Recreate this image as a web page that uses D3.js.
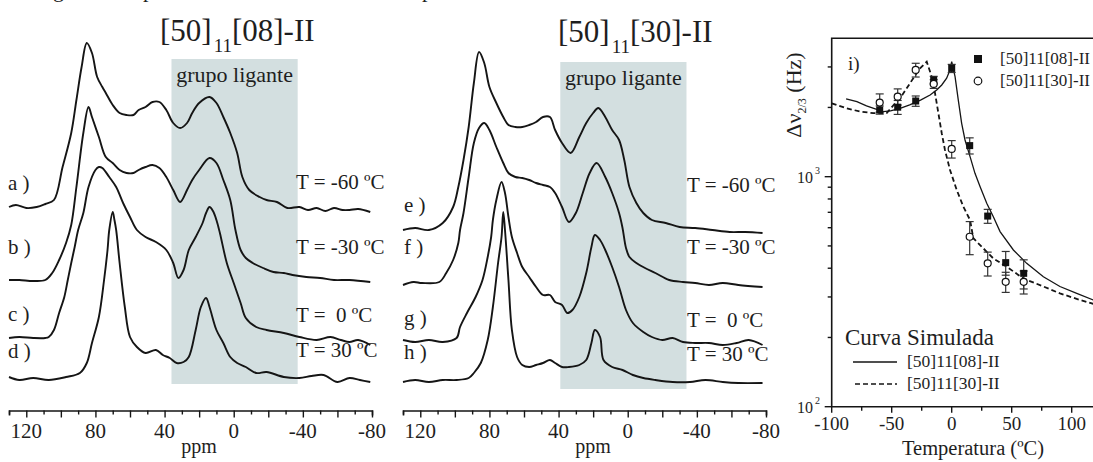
<!DOCTYPE html>
<html><head><meta charset="utf-8">
<script src="https://cdn.jsdelivr.net/npm/d3@7"></script>
<style>
html,body{margin:0;padding:0;background:#fff;overflow:hidden;}
svg{display:block;}
text{font-family:"Liberation Serif","Times New Roman",serif;fill:#1e1e1e;}
</style></head><body>
<svg id="c" width="1093" height="462"></svg>
<script>
// ---------------- DATA ----------------
// NMR spectra: [ppm, intensity (a.u.)]
const specA = [[130,3],[126,5],[120,2],[114,3],[109,6],[104,10],[99,43],[94,77],[91,110],[88,143],[85,167],[82,157],[79,133],[76,123],[74,117],[70,105],[66,97],[62,95],[58,95],[55,100],[51,103],[47,108],[43,108],[39,100],[35,87],[31,82],[27,87],[24,97],[20,107],[14,113],[10,107],[6,93],[2,77],[-2,57],[-5,33],[-9,20],[-15,13],[-19,10],[-25,8],[-31,2],[-38,3],[-43,0],[-48,2],[-53,-1],[-58,2],[-63,0],[-67,0],[-72,1],[-79,-2]];
const specB = [[130,0],[124,0],[116,-1],[109,0],[105,7],[101,20],[97,37],[94,55],[91,93],[87,147],[84,173],[82,163],[78,143],[74,123],[70,117],[66,110],[62,107],[58,107],[55,110],[51,113],[47,115],[43,112],[39,103],[35,90],[31,78],[27,90],[24,100],[20,110],[14,122],[10,117],[6,100],[2,80],[-1,50],[-4,30],[-7,22],[-11,17],[-17,12],[-23,8],[-29,7],[-34,5],[-42,3],[-50,2],[-58,0],[-67,0],[-79,-2]];
const specC = [[130,0],[124,1],[116,0],[109,0],[107,1],[104,8],[101,25],[98,41],[96,58],[94,75],[92,91],[90,108],[87,125],[84,151],[80,168],[78,171],[76,170],[72,161],[68,151],[64,135],[60,121],[56,108],[51,101],[45,96],[39,88],[35,75],[32,60],[29,68],[26,88],[22,101],[18,115],[16,125],[14,131],[12,127],[10,118],[8,105],[4,75],[0,55],[-4,35],[-7,20],[-13,11],[-19,8],[-29,5],[-38,1],[-48,-2],[-56,1],[-62,-2],[-67,-4],[-72,-2],[-79,-7]];
const specD = [[130,1],[124,-2],[116,0],[107,-2],[97,1],[89,5],[85,15],[82,35],[78,61],[75,98],[73,128],[72,148],[70,166],[69,158],[68,148],[66,115],[63,71],[60,41],[56,31],[51,25],[45,28],[41,23],[37,20],[33,15],[29,16],[26,21],[22,48],[19,71],[16,80],[14,71],[10,48],[6,35],[2,21],[-2,15],[-7,11],[-13,5],[-19,6],[-29,1],[-38,0],[-45,2],[-52,3],[-60,-4],[-67,0],[-73,-2],[-79,-4]];
const specE = [[130,0],[123,2],[115,0],[107,7],[101,23],[98,43],[95,70],[92,103],[89,147],[86,178],[83,167],[80,143],[76,127],[72,113],[69,105],[65,103],[61,103],[57,105],[53,108],[49,113],[45,113],[42,100],[38,87],[33,77],[28,93],[24,107],[20,117],[17,122],[13,113],[9,100],[5,90],[2,70],[-1,43],[-5,27],[-9,17],[-14,10],[-22,7],[-30,3],[-39,2],[-49,0],[-59,-2],[-68,-2],[-78,-3]];
const specF = [[130,0],[124,3],[119,2],[109,3],[105,12],[101,25],[98,42],[97,55],[95,72],[92,108],[89,142],[86,157],[83,162],[80,155],[76,138],[72,122],[69,112],[65,108],[61,107],[57,105],[53,102],[49,100],[45,98],[42,92],[38,78],[34,63],[30,72],[26,92],[22,112],[18,122],[13,108],[9,92],[5,72],[3,57],[1,37],[-1,28],[-5,22],[-10,17],[-16,12],[-24,5],[-32,3],[-39,2],[-47,0],[-55,2],[-64,0],[-78,-2]];
const specG = [[130,0],[123,-2],[115,0],[107,-2],[99,2],[97,13],[93,27],[88,43],[84,60],[81,83],[79,103],[78,120],[76,140],[73,158],[71,147],[69,123],[67,103],[64,87],[61,73],[57,63],[53,53],[49,45],[45,45],[42,38],[38,35],[35,27],[32,30],[28,43],[24,67],[21,93],[19,105],[16,100],[13,90],[9,73],[5,53],[1,30],[-3,17],[-9,8],[-14,3],[-20,0],[-26,2],[-32,-2],[-39,-3],[-47,-3],[-55,-5],[-63,-3],[-70,0],[-78,-5]];
const specH = [[130,0],[123,2],[115,0],[107,2],[99,2],[92,4],[89,9],[85,19],[81,42],[78,75],[75,119],[73,145],[72,170],[71,152],[69,102],[67,52],[64,25],[61,17],[57,15],[53,17],[49,19],[45,22],[42,19],[38,15],[34,15],[28,17],[24,22],[21,39],[19,52],[16,45],[14,22],[9,15],[3,12],[-3,7],[-9,4],[-16,2],[-26,0],[-36,0],[-45,2],[-55,0],[-64,-1],[-78,-1]];

const leftOffsets = [201, 131, 73, 33];
const midOffsets  = [181, 126, 71, 29];
const leftLetters = ["a )", "b )", "c )", "d )"];
const midLetters  = ["e )", "f )", "g )", "h )"];
const tempLabels  = ["T = -60 ºC", "T = -30 ºC", "T =  0 ºC", "T = 30 ºC"];
const ppmTickLabels = [120, 80, 40, 0, -40, -80];
const leftBand = [36, -37];
const midBand  = [39, -34];

// Right panel: line width Δν2/3 (Hz) vs temperature (ºC)
const tempC  = [-60, -45, -30, -15, 0, 15, 30, 45, 60];
const dv08   = [1950, 2005, 2133, 2630, 2957, 1365, 674, 423, 380];
const err08  = [80, 140, 110, 100, 120, 110, 47, 50, 55];
const dv30   = [2100, 2228, 2912, 2530, 1320, 548, 420, 349, 349];
const err30  = [190, 180, 200, 110, 115, 90, 50, 35, 40];
const simT08 = [-88, -79, -71, -62.5, -57, -51, -43, -35, -26, -18, -12.5, -8.3, -4.2, -1.4, 0, 2.8, 5.5, 8.3, 11.1, 15.3, 19.4, 23.6, 29.2, 34.7, 40.3, 51.4, 62.5, 76.4, 90.2, 104.2, 118];
const sim08  = [2178, 2120, 2030, 1963, 1918, 1931, 1983, 2051, 2153, 2265, 2384, 2505, 2680, 2912, 3162, 2723, 2153, 1706, 1444, 1222, 1034, 906, 766, 670, 577, 480, 420, 367, 333, 311, 291];
const simT30 = [-100, -87.5, -76.4, -65.3, -54.2, -47.2, -43, -37.5, -32, -26.4, -20.8, -16.7, -13.9, -11.1, -8.3, -5.6, -1.4, 4.2, 9.7, 15.3, 18, 34.7, 45.8, 59.7, 76.4, 90.2, 107, 118];
const sim30  = [2085, 1983, 1919, 1888, 1888, 2085, 2193, 2422, 2680, 2957, 3162, 2723, 2307, 1888, 1545, 1306, 1069, 875, 741, 648, 540, 441, 406, 361, 333, 311, 291, 280];
const tempTicks = [-100, -50, 0, 50, 100];
const seriesNames = ["[50]11[08]-II", "[50]11[30]-II"];

// ---------------- DRAW ----------------
const svg = d3.select("#c");
const INK = "#151515";
const spectraY = d3.scaleLinear().domain([0, 400]).range([411, 11]);

// cropped caption line above the figure (only descenders visible, as in the source crop)
[["g", 53], ["p", 143], ["p", 422]].forEach(([c, px]) => {
  svg.append("text").attr("x", px).attr("y", -3).attr("font-size", 22).text(c);
});

function spectraPanel(p) {
  const x = d3.scaleLinear().domain([130, -80]).range(p.range);
  const y = spectraY;
  const g = svg.append("g");
  g.append("rect")
    .attr("x", x(p.band[0])).attr("width", x(p.band[1]) - x(p.band[0]))
    .attr("y", y(p.bandTop)).attr("height", y(p.bandBottom) - y(p.bandTop))
    .attr("fill", "#d3dfe0");
  g.append("text").attr("x", (x(p.band[0]) + x(p.band[1])) / 2).attr("y", p.bandTextY)
    .attr("text-anchor", "middle").attr("font-size", 22).text("grupo ligante");

  const line = d3.line().curve(d3.curveCatmullRom.alpha(0.5));
  p.spectra.forEach((s, i) => {
    g.append("path")
      .attr("d", line.x(d => x(d[0])).y(d => y(d[1] + p.offsets[i]))(s))
      .attr("fill", "none").attr("stroke", INK).attr("stroke-width", 1.9)
      .attr("stroke-linejoin", "round");
  });
  // axis
  const ay = 410.5;
  const axis = d3.axisBottom(x).tickValues(d3.range(130, -81, -10)).tickFormat("").tickSizeOuter(0).tickSize(5);
  const ag = g.append("g").attr("transform", `translate(0,${ay})`).call(axis);
  ag.select(".domain").attr("stroke", INK).attr("stroke-width", 1.6);
  ag.selectAll(".tick line").attr("stroke", INK).attr("stroke-width", 1.4)
    .attr("y2", d => (d % 20 === 0 ? 7 : 4));
  ppmTickLabels.forEach(v => {
    g.append("text").attr("x", x(v)).attr("y", 438).attr("text-anchor", "middle")
      .attr("font-size", 21).text(v);
  });
  g.append("text").attr("x", x(20)).attr("y", 453).attr("text-anchor", "middle")
    .attr("font-size", 20).text("ppm");
  // title
  const t = g.append("text").attr("x", p.titleX).attr("y", p.titleY).attr("font-size", 31);
  t.append("tspan").text("[50]");
  t.append("tspan").attr("font-size", 19).attr("dx", 2).attr("dy", 11).text("11");
  t.append("tspan").attr("dy", -11).text(p.titleTail);
  // labels
  p.letters.forEach((l, i) => {
    g.append("text").attr("x", p.letterX).attr("y", p.letterY[i]).attr("font-size", 21).text(l);
  });
  tempLabels.forEach((l, i) => {
    g.append("text").attr("x", p.tempX).attr("y", p.tempY[i]).attr("font-size", 21)
      .attr("xml:space", "preserve").style("white-space", "pre").text(l);
  });
}

spectraPanel({
  range: [9, 372], band: leftBand, bandTop: 352, bandBottom: 27, bandTextY: 82,
  spectra: [specA, specB, specC, specD], offsets: leftOffsets,
  titleX: 160, titleY: 41, titleTail: "[08]-II",
  letters: leftLetters, letterX: 8, letterY: [190, 254, 321, 358],
  tempX: 296, tempY: [189, 254, 322, 357]
});
spectraPanel({
  range: [403, 766], band: midBand, bandTop: 349, bandBottom: 22, bandTextY: 85,
  spectra: [specE, specF, specG, specH], offsets: midOffsets,
  titleX: 558, titleY: 42, titleTail: "[30]-II",
  letters: midLetters, letterX: 404, letterY: [212, 254, 325, 359],
  tempX: 687, tempY: [192, 254, 327, 361]
});

// ---------- right panel ----------
(function () {
  const x = d3.scaleLinear().domain([-100, 125]).range([831.7, 1101.7]);
  const y = d3.scaleLog().domain([100, 4000]).range([406.7, 38.2]);
  const g = svg.append("g");
  const x0 = x(-100), x1 = x(125), y0 = y(100), y1 = y(4000);
  g.append("path").attr("d", `M${x0},${y0}V${y1}H${x1}V${y0}Z`)
    .attr("fill", "none").attr("stroke", INK).attr("stroke-width", 1.6);

  // y ticks
  const yt = [];
  for (let v = 100; v <= 3000; v += (v < 1000 ? 100 : 1000)) yt.push(v);
  yt.forEach(v => {
    const major = (v === 100 || v === 1000);
    g.append("line").attr("x1", x0).attr("x2", x0 - (major ? 7 : 4))
      .attr("y1", y(v)).attr("y2", y(v)).attr("stroke", INK).attr("stroke-width", 1.4);
  });
  [[100, "2"], [1000, "3"]].forEach(([v, e]) => {
    const t = g.append("text").attr("x", 797).attr("y", y(v) + 6).attr("font-size", 16).attr("fill", "#333");
    t.append("tspan").text("10");
    t.append("tspan").attr("font-size", 10).attr("dx", 2).attr("dy", -9).text(e);
  });
  // x ticks
  d3.range(-100, 126, 25).forEach(v => {
    const major = v % 50 === 0;
    g.append("line").attr("x1", x(v)).attr("x2", x(v)).attr("y1", y0).attr("y2", y0 + (major ? 6 : 4))
      .attr("stroke", INK).attr("stroke-width", 1.4);
  });
  tempTicks.forEach(v => {
    g.append("text").attr("x", x(v)).attr("y", 430).attr("text-anchor", "middle")
      .attr("font-size", 19).text(v);
  });
  g.append("text").attr("x", 973).attr("y", 455).attr("text-anchor", "middle")
    .attr("font-size", 20.5).text("Temperatura (ºC)");
  // y title
  const yt2 = g.append("text").attr("transform", "translate(801,95) rotate(-90)")
    .attr("text-anchor", "middle").attr("font-size", 22);
  yt2.append("tspan").text("Δν");
  yt2.append("tspan").attr("font-size", 12).attr("dy", 5).text("2/3");
  yt2.append("tspan").attr("dy", -5).text(" (Hz)");

  g.append("text").attr("x", 848).attr("y", 70).attr("font-size", 19).text("i)");

  // simulated curves
  const line = d3.line().x(d => x(d[0])).y(d => y(d[1]));
  g.append("path").attr("d", line(simT08.map((t, i) => [t, sim08[i]])))
    .attr("fill", "none").attr("stroke", INK).attr("stroke-width", 1.3);
  g.append("path").attr("d", line(simT30.map((t, i) => [t, sim30[i]])))
    .attr("fill", "none").attr("stroke", INK).attr("stroke-width", 1.8).attr("stroke-dasharray", "5,3");

  // error bars + markers
  function errBars(vals, errs) {
    tempC.forEach((t, i) => {
      const cx = x(t), ya = y(vals[i] + errs[i]), yb = y(vals[i] - errs[i]);
      g.append("line").attr("x1", cx).attr("x2", cx).attr("y1", ya).attr("y2", yb)
        .attr("stroke", "#333").attr("stroke-width", 1.2);
      [ya, yb].forEach(yy => g.append("line").attr("x1", cx - 4).attr("x2", cx + 4)
        .attr("y1", yy).attr("y2", yy).attr("stroke", "#333").attr("stroke-width", 1.2));
    });
  }
  errBars(dv08, err08);
  errBars(dv30, err30);
  tempC.forEach((t, i) => {
    g.append("rect").attr("x", x(t) - 3.5).attr("y", y(dv08[i]) - 3.5)
      .attr("width", 7).attr("height", 7).attr("fill", "#111");
  });
  tempC.forEach((t, i) => {
    g.append("circle").attr("cx", x(t)).attr("cy", y(dv30[i])).attr("r", 3.5)
      .attr("fill", "#fff").attr("stroke", "#111").attr("stroke-width", 1.2);
  });

  // legend (markers)
  g.append("rect").attr("x", 974).attr("y", 55).attr("width", 8).attr("height", 8).attr("fill", "#111");
  g.append("circle").attr("cx", 978).attr("cy", 81).attr("r", 3.8).attr("fill", "#fff")
    .attr("stroke", "#111").attr("stroke-width", 1.2);
  seriesNames.forEach((s, i) => {
    g.append("text").attr("x", 1000).attr("y", 64 + i * 22).attr("font-size", 17)
      .attr("fill", "#3a3a3a").text(s);
  });
  // legend (curves)
  g.append("text").attr("x", 845).attr("y", 345).attr("font-size", 23).text("Curva Simulada");
  g.append("line").attr("x1", 853).attr("x2", 897).attr("y1", 362).attr("y2", 362)
    .attr("stroke", INK).attr("stroke-width", 1.3);
  g.append("line").attr("x1", 855).attr("x2", 897).attr("y1", 384).attr("y2", 384)
    .attr("stroke", INK).attr("stroke-width", 1.6).attr("stroke-dasharray", "5,3");
  seriesNames.forEach((s, i) => {
    g.append("text").attr("x", 907).attr("y", 367 + i * 22).attr("font-size", 17.5)
      .attr("fill", "#3a3a3a").text(s);
  });
})();
</script>
</body></html>
